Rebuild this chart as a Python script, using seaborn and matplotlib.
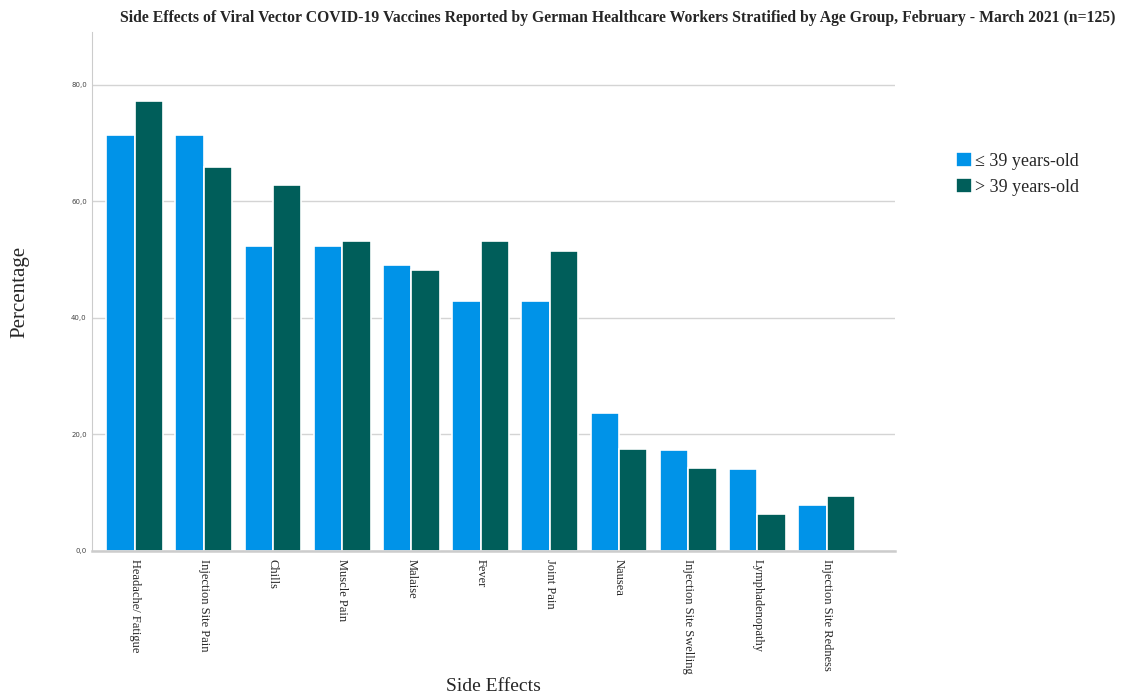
import pandas as pd
import seaborn as sns
import matplotlib.pyplot as plt
from matplotlib.ticker import FuncFormatter

effects = ["Headache/ Fatigue", "Injection Site Pain", "Chills", "Muscle Pain",
           "Malaise", "Fever", "Joint Pain", "Nausea", "Injection Site Swelling",
           "Lymphadenopathy", "Injection Site Redness"]
young = [71.3, 71.3, 52.3, 52.3, 49.1, 42.8, 42.8, 23.7, 17.3, 14.1, 7.8]
older = [77.2, 65.9, 62.7, 53.1, 48.2, 53.1, 51.5, 17.5, 14.3, 6.4, 9.5]
groups = ["\u2264 39 years-old", "> 39 years-old"]
colors = ["#0093E8", "#005E5A"]

df = pd.DataFrame({
    "Side Effects": effects * 2,
    "Percentage": young + older,
    "Group": [groups[0]] * len(effects) + [groups[1]] * len(effects),
})

sns.set_style("white")
plt.rcParams["font.family"] = ["Liberation Serif", "DejaVu Serif"]

fig = plt.figure(figsize=(11.26, 7), dpi=100)
ax = fig.add_axes([0.082, 0.213, 0.713, 0.741])

sns.barplot(data=df, x="Side Effects", y="Percentage", hue="Group",
            palette=colors, saturation=1, width=0.82, edgecolor="white",
            linewidth=1.2, ax=ax)

ax.set_ylim(0, 89)
ax.set_xlim(-0.61, 10.99)
ax.set_yticks([0, 20, 40, 60, 80])
ax.yaxis.set_major_formatter(FuncFormatter(lambda v, p: f"{v:.1f}".replace(".", ",")))
ax.tick_params(axis="y", labelsize=5, colors="#444444", length=0, pad=4)
for lbl in ax.get_yticklabels():
    lbl.set_family("DejaVu Sans")
ax.tick_params(axis="x", length=0, pad=6)
ax.set_xticks(range(len(effects)))
ax.set_xticklabels(effects, rotation=270, fontsize=9, va="top", ha="center")
ax.yaxis.grid(True, color="#d4d4d4", linewidth=1)
ax.set_axisbelow(True)
for side in ["top", "right"]:
    ax.spines[side].set_visible(False)
ax.spines["left"].set_color("#cccccc")
ax.spines["bottom"].set_color("#cccccc")
ax.spines["bottom"].set_linewidth(1.8)

ax.set_ylabel("Percentage", fontsize=15)
ax.yaxis.set_label_coords(-0.078, 0.5)
ax.set_xlabel("Side Effects", fontsize=14)
ax.xaxis.set_label_coords(0.5, -0.245)

ax.legend(loc="upper left", bbox_to_anchor=(1.055, 0.80), frameon=False,
          fontsize=13, handlelength=0.9, handleheight=0.9, handletextpad=0.2,
          labelspacing=0.45)

fig.suptitle("Side Effects of Viral Vector COVID-19 Vaccines Reported by German Healthcare Workers "
             "Stratified by Age Group, February - March 2021 (n=125)",
             x=0.549, y=0.985, fontsize=11.3, fontweight="bold")

fig.savefig("out.png", dpi=100)
